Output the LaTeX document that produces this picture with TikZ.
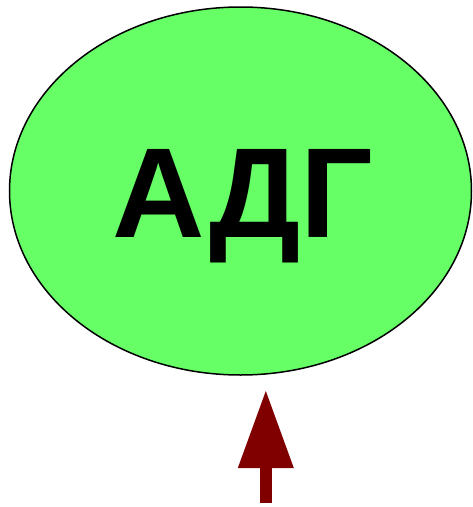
\documentclass[tikz,border=0pt]{standalone}
\usepackage{fontspec}
\setmainfont{Liberation Sans}
\usetikzlibrary{arrows.meta}
\definecolor{ellgreen}{HTML}{66FF66}
\definecolor{arrowred}{HTML}{800000}
\tikzset{
  ellbox/.style={draw=black, line width=1.5pt, fill=ellgreen},
  bigtext/.style={font=\fontsize{128}{128}\selectfont\bfseries, inner sep=0pt, anchor=base},
  blockarrow/.style={draw=arrowred, line width=11.7pt, -{Triangle[length=77pt,width=56pt,line width=0pt]}}
}
\begin{document}
\begin{tikzpicture}[x=1pt,y=-1pt]
\useasboundingbox (0,0) rectangle (473,507);
\filldraw[ellbox] (240.5,191) ellipse [x radius=231, y radius=184];
\node[bigtext] (lbl) at (242.5,237) {АДГ};
\coordinate (tail) at (265.8,502.7);
\coordinate (tip) at (265.8,391);
\draw[blockarrow] (tail) -- (tip);
\end{tikzpicture}
\end{document}
